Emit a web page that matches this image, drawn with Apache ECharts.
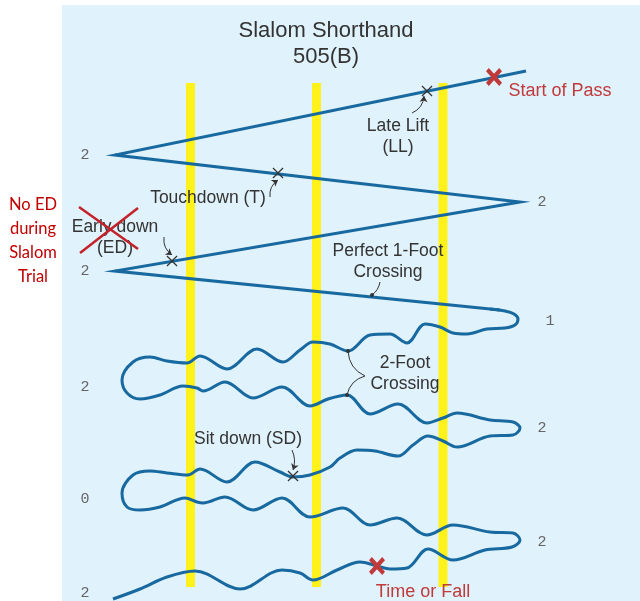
<!DOCTYPE html>
<html>
<head>
<meta charset="utf-8">
<script src="https://cdn.jsdelivr.net/npm/echarts@6/dist/echarts.min.js"></script>
<style>
html,body{margin:0;padding:0;background:#fff;}
#main{width:640px;height:601px;}
</style>
</head>
<body>
<div id="main"></div>
<script>
// diagram space = 640 x 601, y grows downward
var panel = [[62, 5], [640, 601]];
var poleX = [190.5, 316.5, 443];
var poleEnds = [83, 587];

// straight part of the pass
var zigzag = [[526,71],[115,155],[520,202],[115,271],[500,310]];
// wavy part of the pass
var wave = [
  [490,309],[505,311],[514,314],[518,319],[515,325],[505,328],[487,329],[467,334],[453,333],[440,327],
  [425,324],[407,343],[390,334],[370,335],[348,351],[330,344],[313,342],[300,350],[283,362],[257,349],
  [227,369],[200,356],[187,363],[167,361],[150,357],[133,362],[122,380],[127,393],[140,399],[160,395],
  [183,386],[197,388],[203,391],[225,382],[253,398],[282,387],[310,406],[328,399],[347,395],[370,414],
  [398,404],[427,423],[443,418],[457,413],[490,420],[513,422],[520,428],[513,435],[490,436],[457,447],
  [443,441],[428,436],[413,445],[398,456],[375,451],[357,450],[340,458],[330,467],[310,475],[293,477],
  [280,472],[255,462],[227,482],[200,469],[188,475],[167,473],[150,471],[133,475],[122,493],[127,507],
  [140,510],[160,507],[185,498],[197,502],[203,503],[225,497],[253,510],[282,498],[310,517],[343,508],
  [370,525],[397,518],[427,535],[453,525],[490,532],[513,533],[520,540],[512,547],[485,550],[453,560],
  [428,549],[407,568],[390,569],[377,566],[360,562],[337,570],[313,580],[300,573],[282,570],[240,589],
  [195,571],[167,577],[140,589],[113,599]
];

var scoreText = ['2','2','2','1','2','2','0','2','2'];
var scorePos = [[85,155],[542,202],[85,271],[550,321],[85,387],[542,428],[85,499],[542,542],[85,593]];

var titleText = 'Slalom Shorthand\n505(B)';
var titlePos = [326, 44];

var noteText = ['Late Lift\n(LL)', 'Touchdown (T)', 'Early down\n(ED)', 'Perfect 1-Foot\nCrossing', '2-Foot\nCrossing', 'Sit down (SD)'];
var notePos = [[398,136.5],[208,198],[115,237.5],[388,261.5],[405,374],[248,439]];

var redText = ['Start of Pass', 'Time or Fall'];
var redPos = [[560,91],[423,592]];
var sideText = 'No ED\nduring\nSlalom\nTrial';
var sidePos = [33, 241];

var smallX = [[427,91],[278,173],[172,261],[293,476]];
var bigX = [[494,77],[377,566]];
var strikeED = [[[79,207],[138,249]],[[138,208],[80,253]]];

var arrows = [
  [[412,113],[424,96], -0.3],
  [[270,197],[278,180], 0.3],
  [[164,237],[172,255], -0.3],
  [[292,450],[293,470], 0.2]
];
var dotLeaders = [
  [[380,282],[372,295], 0.2],
  [[365,376],[348,351], 0.3],
  [[365,376],[347,395], -0.3]
];

var myChart = echarts.init(document.getElementById('main'));

var FONT = '"Liberation Sans", Arial, sans-serif';
var BLUE = '#17699f';

function textSeries(name, data, label, z){
  return {
    name: name, type: 'scatter', z: z || 10, silent: true,
    symbolSize: 1, itemStyle: {color: 'rgba(0,0,0,0)', opacity: 1},
    label: Object.assign({show: true, position: 'inside', formatter: '{b}', align: 'center',
      verticalAlign: 'middle', textBorderWidth: 0, textShadowBlur: 0, opacity: 1}, label),
    data: data
  };
}
function named(texts, pos){
  return texts.map(function(t, i){ return {name: t, value: pos[i]}; });
}

var series = [];

// background panel
series.push({
  type: 'line', z: 1, silent: true, data: [],
  markArea: {silent: true, itemStyle: {color: '#e0f2fb', opacity: 1},
    data: [[{coord: panel[0]}, {coord: panel[1]}]]}
});

// buoys / poles
poleX.forEach(function(x){
  series.push({
    type: 'line', z: 2, silent: true, symbol: 'none',
    lineStyle: {color: '#fff21a', width: 9, cap: 'butt'},
    data: [[x, poleEnds[0]], [x, poleEnds[1]]]
  });
});

series.push({
  type: 'line', z: 3, silent: true, symbol: 'none',
  lineStyle: {color: BLUE, width: 3, join: 'miter'},
  data: zigzag
});
series.push({
  type: 'line', z: 3, silent: true, symbol: 'none', smooth: 0.35,
  lineStyle: {color: BLUE, width: 3},
  data: wave
});

// arrows
series.push({
  type: 'lines', coordinateSystem: 'cartesian2d', z: 4, silent: true,
  symbol: ['none', 'arrow'], symbolSize: 6,
  lineStyle: {color: '#333', width: 1, opacity: 1},
  data: arrows.map(function(a){ return {coords: [a[0], a[1]], lineStyle: {curveness: a[2]}}; })
});
series.push({
  type: 'lines', coordinateSystem: 'cartesian2d', z: 4, silent: true,
  symbol: ['none', 'circle'], symbolSize: 4,
  lineStyle: {color: '#333', width: 1, opacity: 1},
  data: dotLeaders.map(function(a){ return {coords: [a[0], a[1]], lineStyle: {curveness: a[2]}}; })
});

// markers
series.push({
  type: 'scatter', z: 5, silent: true,
  symbol: 'path://M0,1.6L1.6,0L10,8.4L18.4,0L20,1.6L11.6,10L20,18.4L18.4,20L10,11.6L1.6,20L0,18.4L8.4,10Z',
  symbolSize: 11, itemStyle: {color: '#333', opacity: 1},
  data: smallX
});
series.push({
  type: 'scatter', z: 5, silent: true,
  symbol: 'path://M0,3.5L3.5,0L10,6.5L16.5,0L20,3.5L13.5,10L20,16.5L16.5,20L10,13.5L3.5,20L0,16.5L6.5,10Z',
  symbolSize: [16, 18], itemStyle: {color: '#c0393b', opacity: 1},
  data: bigX
});
series.push({
  type: 'lines', coordinateSystem: 'cartesian2d', z: 12, silent: true,
  symbol: 'none', lineStyle: {color: '#c3222b', width: 2.5, curveness: 0, opacity: 1},
  data: strikeED.map(function(s){ return {coords: s}; })
});

// texts
series.push(textSeries('title', [{name: titleText, value: titlePos}],
  {fontFamily: FONT, fontSize: 22, lineHeight: 26.5, color: '#333333'}));
series.push(textSeries('notes', named(noteText, notePos),
  {fontFamily: FONT, fontSize: 17.5, lineHeight: 21, color: '#333333'}));
series.push(textSeries('red', named(redText, redPos),
  {fontFamily: FONT, fontSize: 18, color: '#c0393b'}));
series.push(textSeries('side', [{name: sideText, value: sidePos}],
  {fontFamily: 'Lato, "Open Sans", sans-serif', fontSize: 16.5, lineHeight: 24, color: '#c00000'}));
series.push(textSeries('scores', named(scoreText, scorePos),
  {fontFamily: '"Liberation Mono", monospace', fontSize: 15, color: '#666'}));

myChart.setOption({
  animation: false,
  backgroundColor: '#ffffff',
  grid: {left: 0, right: 0, top: 0, bottom: 0},
  xAxis: {type: 'value', min: 0, max: 640, show: false},
  yAxis: {type: 'value', min: 0, max: 601, inverse: true, show: false},
  series: series
});
</script>
</body>
</html>
